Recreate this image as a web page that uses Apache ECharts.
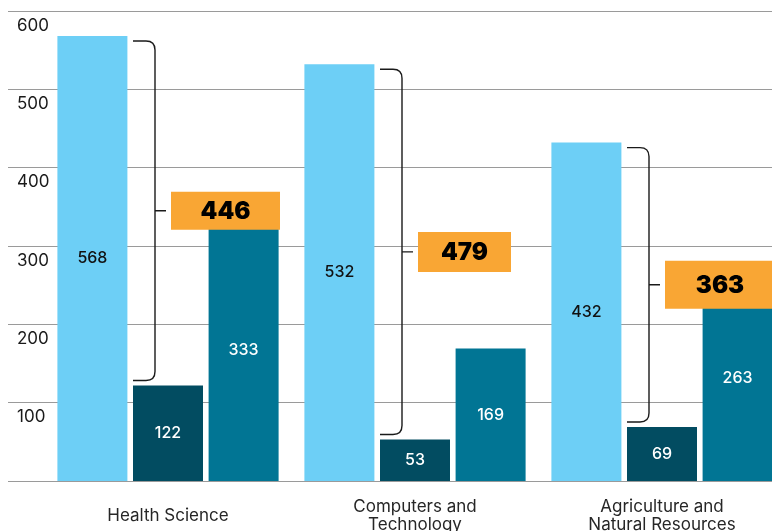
<!DOCTYPE html>
<html>
<head>
<meta charset="utf-8">
<script src="https://cdn.jsdelivr.net/npm/echarts@6/dist/echarts.min.js"></script>
<style>
  html, body { margin: 0; padding: 0; background: #ffffff; }
  #chart { width: 772px; height: 531px; }
</style>
</head>
<body>
<div id="chart"></div>
<script>
// Program categories and the three counts shown for each
const categories = ['Health Science', 'Computers and\nTechnology', 'Agriculture and\nNatural Resources'];
const lightValues = [568, 532, 432];
const darkValues = [122, 53, 69];
const midValues = [333, 169, 263];
// Difference between the first and second bar of each group
const gapValues = [446, 479, 363];
// Value axis ticks
const yMin = 0;
const yMax = 600;
const yStep = 100;

// Box sizes for the difference callouts
const boxWidths = [109, 93, 110];
const boxHeights = [38, 40, 48];

const FONT = 'Inter, "Liberation Sans", Arial, sans-serif';
const BAR_W = 70;

const chart = echarts.init(document.getElementById('chart'), null, { renderer: 'canvas' });

function bracketItem(params, api) {
  const i = api.value(0);
  const top = api.coord([i, api.value(1)]);
  const bottom = api.coord([i, api.value(2)]);
  const cx = top[0];
  const x0 = cx - BAR_W / 2;
  const x1 = cx - 13;
  const r = 9;
  const yT = top[1] + 5;
  const yB = bottom[1] - 5;
  const yM = (yT + yB) / 2;
  const w = boxWidths[i];
  const h = boxHeights[i];
  const bx = cx + 3;
  const path = 'M' + x0 + ' ' + yT + ' L' + (x1 - r) + ' ' + yT +
    ' Q' + x1 + ' ' + yT + ' ' + x1 + ' ' + (yT + r) +
    ' L' + x1 + ' ' + (yB - r) +
    ' Q' + x1 + ' ' + yB + ' ' + (x1 - r) + ' ' + yB +
    ' L' + x0 + ' ' + yB +
    ' M' + x1 + ' ' + yM + ' L' + (x1 + 11) + ' ' + yM;
  return {
    type: 'group',
    children: [
      {
        type: 'path',
        shape: { pathData: path },
        style: { fill: 'none', stroke: '#1a1a1a', lineWidth: 1.4 }
      },
      {
        type: 'rect',
        shape: { x: bx, y: yM - h / 2, width: w, height: h },
        style: { fill: '#f9a634' }
      },
      {
        type: 'text',
        style: {
          text: String(api.value(3)),
          x: bx + w / 2,
          y: yM + 1,
          align: 'center',
          verticalAlign: 'middle',
          font: '900 24px ' + FONT,
          fill: '#000000'
        }
      }
    ]
  };
}

const barLabel = (color) => ({
  show: true,
  position: 'inside',
  color: color,
  fontFamily: FONT,
  fontSize: 16,
  fontWeight: 500
});

chart.setOption({
  animation: false,
  backgroundColor: '#ffffff',
  grid: [
    { left: 8, width: 764, top: 11, bottom: 50, outerBoundsMode: 'none' },
    // category ticks sit on the group centres
    { left: 168, width: 494, top: 11, bottom: 50, outerBoundsMode: 'none' }
  ],
  xAxis: [
    { gridIndex: 0, type: 'value', min: 0, max: 1, show: false },
    {
      gridIndex: 1,
      type: 'category',
      data: categories,
      boundaryGap: false,
      axisLine: { show: false },
      axisTick: { show: false },
      splitLine: { show: false },
      axisLabel: {
        margin: 35,
        verticalAlign: 'middle',
        color: '#262626',
        fontFamily: FONT,
        fontSize: 17,
        lineHeight: 18,
        interval: 0
      }
    }
  ],
  yAxis: [
    {
      gridIndex: 0,
      type: 'value',
      min: yMin,
      max: yMax,
      interval: yStep,
      axisLine: { show: false },
      axisTick: { show: false },
      splitLine: { show: true, lineStyle: { color: '#9a9a9a', width: 1 } },
      axisLabel: {
        inside: true,
        margin: 9,
        align: 'left',
        verticalAlign: 'top',
        padding: [6, 0, 0, 0],
        color: '#1a1a1a',
        fontFamily: FONT,
        fontSize: 17,
        showMinLabel: false,
        formatter: (v) => (v === yMin ? '' : String(v))
      }
    },
    { gridIndex: 1, type: 'value', min: yMin, max: yMax, interval: yStep, show: false }
  ],
  series: [
    {
      type: 'bar',
      xAxisIndex: 1,
      yAxisIndex: 1,
      data: lightValues,
      barWidth: BAR_W,
      barGap: '8%',
      clip: false,
      itemStyle: { color: '#6dcff6' },
      label: barLabel('#111111'),
      z: 2
    },
    {
      type: 'bar',
      xAxisIndex: 1,
      yAxisIndex: 1,
      data: darkValues,
      barWidth: BAR_W,
      barGap: '8%',
      clip: false,
      itemStyle: { color: '#024c61' },
      label: barLabel('#ffffff'),
      z: 2
    },
    {
      type: 'bar',
      xAxisIndex: 1,
      yAxisIndex: 1,
      data: midValues,
      barWidth: BAR_W,
      barGap: '8%',
      clip: false,
      itemStyle: { color: '#017594' },
      label: barLabel('#ffffff'),
      z: 2
    },
    {
      type: 'custom',
      xAxisIndex: 1,
      yAxisIndex: 1,
      renderItem: bracketItem,
      clip: false,
      encode: { x: 0, y: [1, 2] },
      data: categories.map((c, i) => [i, lightValues[i], darkValues[i], gapValues[i]]),
      z: 5,
      silent: true
    }
  ]
});
</script>
</body>
</html>
